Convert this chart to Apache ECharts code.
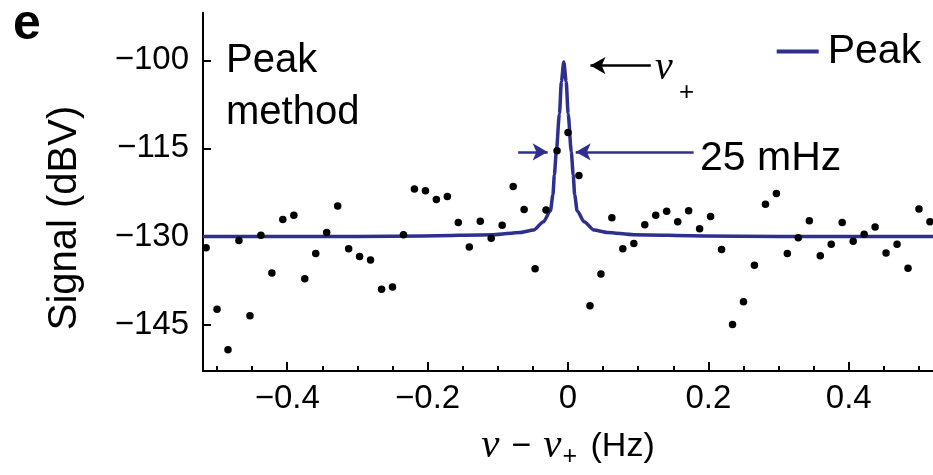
<!DOCTYPE html>
<html>
<head>
<meta charset="utf-8">
<script src="https://cdn.jsdelivr.net/npm/echarts@6/dist/echarts.min.js"></script>
<style>
html,body{margin:0;padding:0;background:#fff;}
#chart{width:933px;height:475px;}
</style>
</head>
<body>
<div id="chart"></div>
<script>
// Measured points: frequency offset (Hz) and signal (dBV)
const freq = [
  -0.5156, -0.5, -0.4844, -0.4688, -0.4531, -0.4375, -0.4219, -0.4063, -0.3906, -0.375,
  -0.3594, -0.3438, -0.3281, -0.3125, -0.2969, -0.2813, -0.2656, -0.25, -0.2344, -0.2188,
  -0.2031, -0.1875, -0.1719, -0.1563, -0.1406, -0.125, -0.1094, -0.0938, -0.0781, -0.0625,
  -0.0469, -0.0313, -0.0156, 0, 0.0156, 0.0313, 0.0469, 0.0625, 0.0781, 0.0938,
  0.1094, 0.125, 0.1406, 0.1563, 0.1719, 0.1875, 0.2031, 0.2188, 0.2344, 0.25,
  0.2656, 0.2813, 0.2969, 0.3125, 0.3281, 0.3438, 0.3594, 0.375, 0.3906, 0.4063,
  0.4219, 0.4375, 0.4531, 0.4688, 0.4844, 0.5, 0.5156
];
const signal = [
  -131.9, -142.4, -149.3, -130.7, -143.5, -129.8, -136.2, -127.1, -126.4, -137.2,
  -132.9, -129.3, -124.8, -132.1, -133.4, -134.0, -139.0, -138.6, -129.7, -121.9,
  -122.2, -123.7, -123.2, -127.6, -131.8, -127.4, -130.3, -128.1, -121.5, -125.4,
  -135.5, -125.5, -115.4, -112.3, -119.6, -141.8, -136.4, -126.8, -132.1, -131.2,
  -128.0, -126.4, -125.7, -127.5, -125.6, -128.7, -126.6, -132.2, -145.0, -141.1,
  -134.9, -124.5, -122.7, -132.9, -130.2, -127.3, -133.3, -131.3, -127.6, -130.8,
  -129.6, -128.4, -132.8, -131.3, -135.4, -125.3, -127.5
];
// Fitted "Peak" curve
const fitFreq = [
  -0.52, -0.3, -0.206, -0.106, -0.068, -0.049, -0.035, -0.025, -0.0215, -0.0194,
  -0.0167, -0.0122, -0.0094, -0.006, -0.0026, 0.0002, 0.0047, 0.0074, 0.0095, 0.013,
  0.023, 0.037, 0.056, 0.094, 0.194, 0.3, 0.52
];
const fitSignal = [
  -130, -130, -129.9, -129.7, -129.3, -128.9, -127.5, -125.6, -122.9, -119.5,
  -115.6, -109.1, -103.6, -100.3, -103.6, -109.1, -115.6, -119.5, -122.9, -125.6,
  -127.5, -128.9, -129.3, -129.7, -129.9, -130, -130
];
// Axis ticks
const xTicks = [-0.4, -0.2, 0, 0.2, 0.4];
const xMinorTicks = [-0.5, -0.45, -0.4, -0.35, -0.3, -0.25, -0.2, -0.15, -0.1, -0.05, 0,
  0.05, 0.1, 0.15, 0.2, 0.25, 0.3, 0.35, 0.4, 0.45, 0.5];
const yTicks = [-145, -130, -115, -100];
// Annotation arrows [tailX, tailY, headX, headY]
const nuArrow = [0.118, -100.9, 0.032, -100.9];
const widthArrowLeft = [-0.071, -115.6, -0.029, -115.6];
const widthArrowRight = [0.179, -115.6, 0.011, -115.6];

const SANS = '"Liberation Sans", Arial, Helvetica, sans-serif';
const SERIF = '"Liberation Serif", "Times New Roman", serif';
const BLUE = '#2f2f8f';
const fmt = v => (v < 0 ? '\u2212' + String(-v) : String(v));

const chart = echarts.init(document.getElementById('chart'), null, {renderer: 'canvas'});

function arrow(a, color) {
  return [
    {coord: [a[0], a[1]], lineStyle: {color: color, width: 2.5, type: 'solid'}, itemStyle: {color: color}},
    {coord: [a[2], a[3]]}
  ];
}

chart.setOption({
  animation: false,
  backgroundColor: '#fff',
  grid: {left: 203, right: 0, top: 12.7, bottom: 93.3},
  legend: {
    data: [{name: 'Peak', icon: 'rect'}],
    left: 776.7, top: 31, padding: 0,
    itemWidth: 42, itemHeight: 4,
    itemStyle: {color: BLUE},
    textStyle: {fontFamily: SANS, fontSize: 41, color: '#000', padding: [0, 0, 0, 4]},
    selectedMode: false
  },
  xAxis: [{
    type: 'value', min: -0.52, max: 0.52, position: 'bottom',
    axisLine: {show: true, onZero: false, lineStyle: {color: '#000', width: 2}},
    axisTick: {show: true, inside: true, length: 9, customValues: xTicks, lineStyle: {color: '#000', width: 2}},
    axisLabel: {customValues: xTicks, formatter: fmt, fontFamily: SANS, fontSize: 33, color: '#000', margin: 11},
    splitLine: {show: false},
    name: '{i|\u03bd}{op|\u2212}{i|\u03bd}{sub|+} (Hz)',
    nameLocation: 'middle', nameGap: 52,
    nameTextStyle: {
      fontFamily: SANS, fontSize: 34, color: '#000',
      rich: {
        i: {fontFamily: SERIF, fontStyle: 'italic', fontSize: 41, color: '#000'},
        op: {fontFamily: SANS, fontSize: 34, color: '#000', padding: [0, 12, 0, 12]},
        sub: {fontFamily: SANS, fontSize: 25, color: '#000', padding: [22, 4, 0, 1]}
      }
    }
  }, {
    type: 'value', min: -0.52, max: 0.52, position: 'bottom',
    axisLine: {show: false},
    axisTick: {show: true, inside: true, length: 5, customValues: xMinorTicks, lineStyle: {color: '#000', width: 2}},
    axisLabel: {show: false},
    splitLine: {show: false}
  }],
  yAxis: {
    type: 'value', min: -152.9, max: -91.9,
    axisLine: {show: true, onZero: false, lineStyle: {color: '#000', width: 2}},
    axisTick: {show: true, inside: true, length: 8, customValues: yTicks, lineStyle: {color: '#000', width: 2}},
    axisLabel: {customValues: yTicks, formatter: fmt, fontFamily: SANS, fontSize: 33, color: '#000', margin: 14},
    splitLine: {show: false}
  },
  series: [{
    name: 'Peak',
    type: 'line',
    xAxisIndex: 0,
    data: fitFreq.map((x, i) => [x, fitSignal[i]]),
    symbol: 'none',
    smooth: 0.25,
    smoothMonotone: 'x',
    color: BLUE,
    lineStyle: {color: BLUE, width: 3.5},
    emphasis: {disabled: true},
    z: 2,
    markLine: {
      silent: true,
      symbol: ['none', 'arrow'],
      symbolSize: [13, 15],
      label: {show: false},
      emphasis: {disabled: true},
      data: [arrow(nuArrow, '#000'), arrow(widthArrowLeft, BLUE), arrow(widthArrowRight, BLUE)]
    }
  }, {
    name: 'Data',
    type: 'scatter',
    xAxisIndex: 0,
    data: freq.map((x, i) => [x, signal[i]]),
    symbol: 'circle',
    symbolSize: 7.5,
    itemStyle: {color: '#000', opacity: 1},
    emphasis: {disabled: true},
    z: 3
  }],
  graphic: [
    {type: 'text', left: 13, top: 0, style: {text: 'e', font: 'bold 50px ' + SANS, fill: '#000'}},
    {type: 'text', x: 226, y: 86.6, style: {text: 'Peak\nmethod', fontFamily: SANS, fontSize: 40, lineHeight: 52, fill: '#000', verticalAlign: 'middle', align: 'left'}},
    {type: 'text', x: 655, y: 68, style: {text: '\u03bd', fontFamily: SERIF, fontStyle: 'italic', fontSize: 40, fill: '#000', verticalAlign: 'middle'}},
    {type: 'text', x: 679, y: 92.5, style: {text: '+', fontFamily: SANS, fontSize: 26, fill: '#000', verticalAlign: 'middle'}},
    {type: 'text', x: 700, y: 158.3, style: {text: '25 mHz', fontFamily: SANS, fontSize: 41, fill: '#000', verticalAlign: 'middle'}},
    {type: 'text', x: 65, y: 218, rotation: Math.PI / 2, style: {text: 'Signal (dBV)', fontFamily: SANS, fontSize: 40, fill: '#000', align: 'center', verticalAlign: 'middle'}}
  ]
});
</script>
</body>
</html>
